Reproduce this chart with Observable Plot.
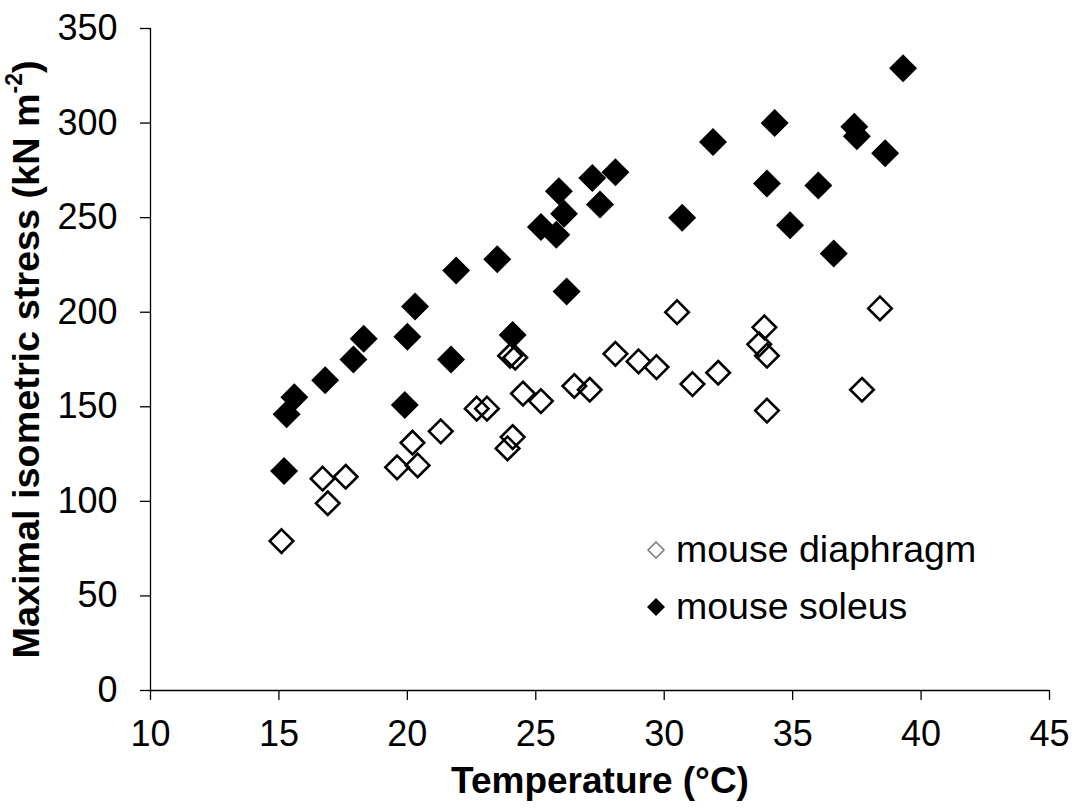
<!DOCTYPE html>
<html><head><meta charset="utf-8">
<script src="https://cdn.jsdelivr.net/npm/d3@7"></script>
<script src="https://cdn.jsdelivr.net/npm/@observablehq/plot@0.6"></script>
<style>
body{margin:0;background:#fff;font-family:Arial,"Liberation Sans",sans-serif;}
#wrap{position:relative;width:1077px;height:809px;}
.legend{position:absolute;left:646px;top:521px;font-size:37.5px;color:#000;font-family:Arial,"Liberation Sans",sans-serif;}
.legend div{display:flex;align-items:center;height:57px;}
.legend svg{margin-right:10px;}
</style></head><body><div id="wrap"></div><script>
// Series names
const seriesNames = ["mouse diaphragm", "mouse soleus"];
// mouse diaphragm (open diamonds)
const diaphragmTemp   = [15.1, 16.7, 16.9, 17.6, 19.6, 20.2, 20.4, 21.3, 22.7, 23.1, 23.9, 24.1, 24.0, 24.2, 24.5, 25.2, 26.5, 27.1, 28.1, 29.0, 29.7, 30.5, 31.1, 32.1, 33.7, 33.9, 34.0, 34.0, 37.7, 38.4];
const diaphragmStress = [79, 112, 99, 113, 118, 131, 119, 137, 149, 149, 128, 134, 177, 176, 157, 153, 161, 159, 178, 174, 171, 200, 162, 168, 183, 192, 177, 148, 159, 202];
// mouse soleus (filled diamonds)
const soleusTemp   = [15.2, 15.3, 15.6, 16.8, 17.9, 18.3, 19.9, 20.0, 20.3, 21.7, 21.9, 23.5, 24.1, 25.2, 25.8, 25.9, 26.1, 26.2, 27.2, 27.5, 28.1, 30.7, 31.9, 34.0, 34.3, 34.9, 36.0, 36.6, 37.4, 37.5, 38.6, 39.3];
const soleusStress = [116, 146, 155, 164, 175, 186, 151, 187, 203, 175, 222, 228, 188, 245, 241, 264, 252, 211, 271, 257, 274, 250, 290, 268, 300, 246, 267, 231, 298, 293, 284, 329];
// Tick labels
const xTicks = [10, 15, 20, 25, 30, 35, 40, 45];
const yTicks = [0, 50, 100, 150, 200, 250, 300, 350];

const diaphragm = diaphragmTemp.map((t, i) => ({t, s: diaphragmStress[i], series: seriesNames[0]}));
const soleus = soleusTemp.map((t, i) => ({t, s: soleusStress[i], series: seriesNames[1]}));

const chart = Plot.plot({
  width: 1077, height: 809,
  marginLeft: 150, marginRight: 28, marginTop: 28, marginBottom: 119,
  style: {fontFamily: 'Arial, "Liberation Sans", sans-serif', fontSize: "36px", color: "#000", background: "#fff", overflow: "visible"},
  x: {domain: [10, 45]},
  y: {domain: [0, 350]},
  marks: [
    Plot.axisX({ticks: xTicks, tickSize: 10, tickPadding: 20, stroke: "#000", strokeWidth: 1.3, fontSize: 36,
      label: "Temperature (°C)", labelAnchor: "center", labelArrow: "none", labelOffset: 102}),
    Plot.axisY({ticks: yTicks, tickSize: 10, tickPadding: 23, stroke: "#000", strokeWidth: 1.3, fontSize: 36,
      label: "Maximal isometric stress (kN m-2)", labelAnchor: "center", labelArrow: "none", labelOffset: 138}),
    Plot.ruleY([0], {stroke: "#000", strokeWidth: 1.3}),
    Plot.ruleX([10], {stroke: "#000", strokeWidth: 1.3}),
    Plot.dot(soleus, {x: "t", y: "s", symbol: "diamond2", r: 12.6, fill: "#000", stroke: "none"}),
    Plot.dot(diaphragm, {x: "t", y: "s", symbol: "diamond2", r: 10.6, fill: "none", stroke: "#000", strokeWidth: 2.6})
  ]
});

// Bold axis titles and superscript
const d3svg = d3.select(chart);
const xl = d3svg.select('[aria-label="x-axis label"] text');
xl.attr("font-weight", "bold").attr("font-size", "37px");
const yl = d3svg.select('[aria-label="y-axis label"] text');
yl.attr("font-weight", "bold").attr("font-size", "37.8px");
const full = yl.text();
if (full.endsWith("m-2)")) {
  yl.text(full.slice(0, -3));
  yl.append("tspan").attr("font-size", "23px").attr("dy", "-0.75em").text("-2");
  yl.append("tspan").attr("dy", "0.45em").text(")");
}

const wrap = document.getElementById("wrap");
wrap.appendChild(chart);

// Legend
const legend = document.createElement("div");
legend.className = "legend";
const shapes = [
  '<svg width="20" height="20" viewBox="-10 -10 20 20"><path d="M0,-8L8,0L0,8L-8,0Z" fill="none" stroke="#777" stroke-width="1.5"/></svg>',
  '<svg width="20" height="20" viewBox="-10 -10 20 20"><path d="M0,-9L9,0L0,9L-9,0Z" fill="#000"/></svg>'
];
seriesNames.forEach((n, i) => {
  const row = document.createElement("div");
  row.innerHTML = shapes[i] + "<span>" + n + "</span>";
  legend.appendChild(row);
});
wrap.appendChild(legend);
</script></body></html>
